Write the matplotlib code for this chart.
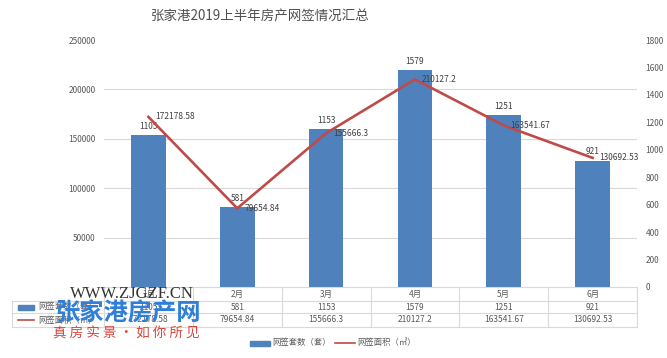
import matplotlib
matplotlib.use("Agg")
import matplotlib.pyplot as plt
import numpy as np
from matplotlib.patches import Rectangle
from matplotlib.lines import Line2D

plt.rcParams['font.family'] = ['Noto Sans CJK SC', 'DejaVu Sans']

months = ["1月", "2月", "3月", "4月", "5月", "6月"]
counts = [1105, 581, 1153, 1579, 1251, 921]
areas = [172178.58, 79654.84, 155666.3, 210127.2, 163541.67, 130692.53]
area_labels = ["172178.58", "79654.84", "155666.3", "210127.2", "163541.67", "130692.53"]
count_name = "网签套数（套）"
area_name = "网签面积（㎡）"
title = "张家港2019上半年房产网签情况汇总"

bar_color = "#4F81BD"
line_color = "#BE4B48"
txt = "#595959"
grid_c = "#D9D9D9"

fig = plt.figure(figsize=(6.67, 3.58), dpi=100)
W, H = 667, 358
L, R, T, B = 104, 637, 40, 287
ax = fig.add_axes([L / W, (H - B) / H, (R - L) / W, (B - T) / H])
ax2 = ax.twinx()
x = np.arange(len(months))

# bars on right axis (0-1800)
ax.bar(x, counts, width=0.39, color=bar_color, zorder=2)
ax.set_ylim(0, 1800)
ax.set_xlim(-0.5, len(months) - 0.5)
ax.set_yticks(np.arange(0, 1801, 200))
ax.set_yticklabels([str(v) for v in range(0, 1801, 200)])
ax.yaxis.tick_right()
ax.tick_params(axis='y', which='both', length=0, labelsize=6, labelcolor=txt,
               pad=6, left=False, labelleft=False, right=False, labelright=True)
ax.set_xticks([])
# gridlines corresponding to left axis multiples of 50000
ax.set_yticks(np.arange(0, 1801, 1800 / 5), minor=True)
ax.grid(axis='y', which='minor', color=grid_c, linewidth=0.8, zorder=0)
ax.grid(axis='y', which='major', visible=False)
for s in ax.spines.values():
    s.set_visible(False)
for xi, c in zip(x, counts):
    ax.annotate(str(c), (xi, c), xytext=(0, 3), textcoords='offset points',
                ha='center', va='bottom', fontsize=6, color='#404040')

# line on left axis (0-250000)
ax2.plot(x, areas, color=line_color, linewidth=1.9, zorder=3)
ax2.set_ylim(0, 250000)
ax2.set_yticks(np.arange(50000, 250001, 50000))
ax2.set_yticklabels([str(v) for v in range(50000, 250001, 50000)])
ax2.yaxis.tick_left()
ax2.tick_params(axis='y', length=0, labelsize=6, labelcolor=txt, pad=6,
                right=False, labelright=False, left=False, labelleft=True)
for s in ax2.spines.values():
    s.set_visible(False)
for xi, a, lab in zip(x, areas, area_labels):
    ax2.annotate(lab, (xi, a), xytext=(5, 0), textcoords='offset points',
                 ha='left', va='center', fontsize=6, color='#404040')

# title
fig.text(260 / W, 1 - 17 / H, title, ha='center', va='center', fontsize=9.7,
         color='#505050')

# data table below axis
tr = ax.get_xaxis_transform()
px = 1.0 / (B - T)  # axes fraction per pixel
row_y = [-7 * px, -20 * px, -33 * px]
lines_y = [0, -14 * px, -26 * px, -40 * px]
cat_w_px = (R - L) / len(months)
left_edge = -0.5 - (L - 12) / cat_w_px
lk = dict(transform=tr, clip_on=False, color=grid_c, linewidth=0.8)
ax.add_line(Line2D([-0.5, len(months) - 0.5], [0, 0], **lk))
for ly in lines_y[1:]:
    ax.add_line(Line2D([left_edge, len(months) - 0.5], [ly, ly], **lk))
ax.add_line(Line2D([left_edge, left_edge], [lines_y[1], lines_y[3]], **lk))
for b in np.arange(-0.5, len(months), 1.0):
    ax.add_line(Line2D([b, b], [lines_y[0], lines_y[3]], **lk))
for xi, m, c, a in zip(x, months, counts, area_labels):
    ax.text(xi, row_y[0], m, transform=tr, ha='center', va='center',
            fontsize=6, color=txt)
    ax.text(xi, row_y[1], str(c), transform=tr, ha='center', va='center',
            fontsize=6, color=txt)
    ax.text(xi, row_y[2], a, transform=tr, ha='center', va='center',
            fontsize=6, color=txt)
# row headers
hx = left_edge + 6 / cat_w_px
ax.add_patch(Rectangle((hx, row_y[1] - 2.5 * px), 16 / cat_w_px, 5 * px,
                       transform=tr, clip_on=False, color=bar_color))
ax.add_line(Line2D([hx, hx + 16 / cat_w_px], [row_y[2], row_y[2]],
                   transform=tr, clip_on=False, color=line_color, linewidth=1.2))
ax.text(hx + 20 / cat_w_px, row_y[1], count_name, transform=tr, ha='left',
        va='center', fontsize=6, color=txt)
ax.text(hx + 20 / cat_w_px, row_y[2], area_name, transform=tr, ha='left',
        va='center', fontsize=6, color=txt)

# bottom legend
ly = 1 - 343 / H
fig.patches.append(Rectangle((250 / W, ly - 2.5 / H), 20 / W, 5 / H,
                             transform=fig.transFigure, color=bar_color))
fig.text(272 / W, ly, count_name, ha='left', va='center', fontsize=6, color=txt)
fig.lines.append(Line2D([335 / W, 355 / W], [ly, ly], transform=fig.transFigure,
                        color=line_color, linewidth=1.2))
fig.text(357 / W, ly, area_name, ha='left', va='center', fontsize=6, color=txt)

# watermark
fig.text(132 / W, 1 - 294 / H, "WWW.ZJGZF.CN", ha='center', va='center',
         fontsize=12, color='#333333', family=['Liberation Serif', 'DejaVu Serif'])
fig.text(128 / W, 1 - 314 / H, "张家港房产网", ha='center', va='center',
         fontsize=17.5, color='#2F7ED8', fontweight='bold')
fig.text(126 / W, 1 - 334 / H, "真 房 实 景 · 如 你 所 见", ha='center', va='center',
         fontsize=9.8, color='#D9443A')

fig.savefig("out.png", dpi=100)
